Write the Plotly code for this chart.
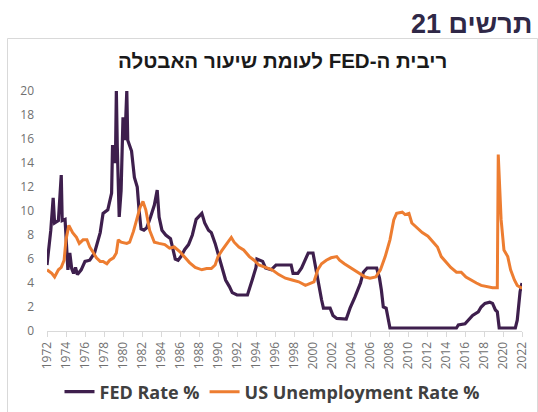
import plotly.graph_objects as go

# FED rate, x = position on the year axis
fed_x = [1972.0, 1972.4, 1972.65, 1972.8, 1973.2, 1973.5, 1973.6, 1973.9, 1974.1, 1974.2,
         1974.4, 1974.6, 1974.8, 1975.0, 1975.2, 1975.6, 1976.0, 1976.5, 1977.0, 1977.6,
         1977.9, 1978.4, 1978.8, 1978.9, 1979.2, 1979.3, 1979.4, 1979.6, 1979.8, 1980.0,
         1980.2, 1980.4, 1980.5, 1980.9, 1981.2, 1981.5, 1981.7, 1981.9, 1982.2, 1982.5,
         1982.9, 1983.3, 1983.6, 1983.8, 1984.1, 1984.5, 1985.0, 1985.3, 1985.5, 1985.8,
         1986.1, 1986.5, 1986.9, 1987.3, 1987.7, 1988.3, 1988.6, 1989.0, 1989.3, 1989.7,
         1990.0, 1990.5, 1990.8, 1991.2, 1991.5, 1992.0, 1993.1, 1993.6, 1994.0, 1994.1,
         1994.7, 1995.0, 1995.6, 1996.1, 1997.7, 1997.9, 1998.4, 1998.8, 1999.1, 1999.5,
         2000.0, 2000.3, 2000.6, 2000.9, 2001.1, 2001.8, 2002.1, 2002.5, 2003.5, 2003.9,
         2004.4, 2005.0, 2005.3, 2005.7, 2006.7, 2007.0, 2007.2, 2007.4, 2007.7, 2008.1,
         2015.1, 2015.3, 2016.0, 2016.3, 2016.8, 2017.4, 2017.7, 2018.1, 2018.6, 2018.9,
         2019.2, 2019.4, 2019.6, 2021.3, 2021.5, 2021.8, 2022.0]
fed_y = [5.5, 8.4, 11.1, 9.0, 9.2, 13.0, 9.2, 9.3, 6.5, 5.1,
         6.5, 5.2, 4.8, 5.3, 4.7, 5.1, 5.8, 5.9, 6.5, 8.2,
         9.8, 10.1, 11.5, 15.5, 14.0, 20.0, 15.3, 9.5, 11.7, 17.8,
         15.9, 20.0, 15.9, 15.0, 12.8, 12.0, 10.0, 8.5, 8.4, 8.6,
         9.5, 10.5, 11.75, 9.5, 8.4, 8.0, 7.7, 6.8, 6.0, 5.9,
         6.2, 6.8, 7.2, 8.0, 9.3, 9.8, 9.0, 8.4, 8.2, 7.3,
         6.5, 5.1, 4.25, 3.7, 3.2, 3.0, 3.0, 4.25, 5.3, 6.0,
         5.8, 5.25, 5.1, 5.5, 5.5, 4.8, 4.8, 5.25, 5.8, 6.5,
         6.5, 5.1, 3.7, 2.6, 1.9, 1.9, 1.3, 1.05, 1.0, 1.9,
         2.8, 4.0, 4.9, 5.25, 5.25, 4.4, 3.4, 2.0, 1.9, 0.25,
         0.25, 0.5, 0.6, 0.9, 1.3, 1.6, 2.0, 2.3, 2.4, 2.3,
         1.75, 1.6, 0.25, 0.25, 0.9, 3.3, 4.0]

# US unemployment rate
unemp_x = [1972.0, 1972.5, 1972.8, 1973.2, 1973.5, 1973.8, 1974.0, 1974.3, 1974.7, 1975.1,
           1975.4, 1975.8, 1976.2, 1976.5, 1976.9, 1977.2, 1977.6, 1977.9, 1978.3, 1978.6,
           1979.0, 1979.3, 1979.5, 1979.8, 1980.4, 1980.7, 1981.1, 1981.4, 1981.8, 1982.1,
           1982.4, 1982.8, 1983.3, 1983.8, 1984.4, 1984.9, 1985.4, 1986.0, 1986.5, 1987.0,
           1987.6, 1988.3, 1988.8, 1989.3, 1989.7, 1990.0, 1990.4, 1990.9, 1991.4, 1991.7,
           1992.2, 1992.7, 1993.3, 1993.8, 1994.3, 1995.0, 1995.7, 1996.4, 1997.1, 1997.8,
           1998.5, 1999.2, 1999.8, 2000.1, 2000.5, 2000.9, 2001.4, 2001.9, 2002.5, 2002.8,
           2003.3, 2003.9, 2004.4, 2005.0, 2005.5, 2006.0, 2006.6, 2007.1, 2007.6, 2008.1,
           2008.5, 2008.8, 2009.4, 2009.7, 2010.1, 2010.4, 2011.0, 2011.5, 2012.1, 2012.6,
           2013.1, 2013.5, 2014.0, 2014.5, 2015.1, 2015.6, 2016.1, 2016.6, 2017.2, 2017.7,
           2018.2, 2018.9, 2019.4, 2019.5, 2019.8, 2020.1, 2020.5, 2020.8, 2021.2, 2021.5,
           2021.9, 2022.0]
unemp_y = [5.1, 4.8, 4.5, 5.1, 5.3, 5.9, 7.6, 8.8, 8.2, 7.8,
           7.3, 7.6, 7.6, 7.0, 6.5, 6.1, 5.8, 5.8, 5.6, 5.9,
           6.1, 6.5, 7.6, 7.4, 7.3, 7.4, 8.3, 9.2, 10.3, 10.8,
           10.1, 8.4, 7.4, 7.3, 7.2, 6.9, 7.0, 6.6, 6.1, 5.7,
           5.3, 5.1, 5.2, 5.2, 5.5, 6.2, 6.7, 7.2, 7.8, 7.4,
           7.0, 6.75, 6.2, 5.9, 5.5, 5.3, 5.1, 4.7, 4.4, 4.25,
           4.1, 3.8, 4.0, 4.1, 5.1, 5.6, 5.9, 6.1, 6.2, 5.9,
           5.6, 5.3, 5.1, 4.8, 4.5, 4.4, 4.5, 5.1, 6.2, 7.6,
           9.25, 9.8, 9.9, 9.7, 9.8, 9.0, 8.6, 8.2, 7.9, 7.4,
           7.0, 6.2, 5.7, 5.3, 4.9, 4.9, 4.5, 4.25, 4.0, 3.8,
           3.7, 3.6, 3.6, 14.7, 9.3, 6.75, 6.2, 5.1, 4.25, 3.8,
           3.6, 3.6]

year_ticks = list(range(1972, 2023, 2))
y_ticks = list(range(0, 21, 2))

fed_name = "FED Rate %"
unemp_name = "US Unemployment Rate %"
header_text = "תרשים 21"
title_text = "ריבית ה-FED לעומת שיעור האבטלה"

# right-to-left embedding so Hebrew lines are laid out right to left
RLE, PDF = "\u202B", "\u202C"
title_display = RLE + title_text + PDF
header_display = RLE + header_text + PDF

W, H = 538, 412
L, R, T, B = 47, 16, 91, 81
pw, ph = W - L - R, H - T - B


def px_x(p):
    return (p - L) / pw


def px_y(p):
    return (H - B - p) / ph


fig = go.Figure()
fig.add_trace(go.Scatter(x=fed_x, y=fed_y, name=fed_name, mode="lines",
                         line=dict(color="#3e1f4d", width=3.2)))
fig.add_trace(go.Scatter(x=unemp_x, y=unemp_y, name=unemp_name, mode="lines",
                         line=dict(color="#ED7D31", width=3)))

fig.update_layout(
    width=W, height=H,
    margin=dict(l=L, r=R, t=T, b=B, autoexpand=False),
    paper_bgcolor="white", plot_bgcolor="white",
    showlegend=True,
    legend=dict(orientation="h", x=px_x(272), xanchor="center", y=px_y(392), yanchor="middle",
                font=dict(family="Open Sans", size=18, color="#404040", weight="bold"),
                itemwidth=30, bgcolor="rgba(0,0,0,0)"),
    font=dict(family="Open Sans"),
)
fig.update_xaxes(range=[1972, 2022], tickvals=year_ticks, ticktext=[str(v) for v in year_ticks],
                 tickangle=-90, showgrid=False, zeroline=False,
                 showline=True, linecolor="#d9d9d9", linewidth=1,
                 ticks="outside", ticklen=5, tickcolor="#d9d9d9",
                 tickfont=dict(family="Open Sans", size=12, color="#707070"))
fig.update_yaxes(range=[0, 20], tickvals=y_ticks, showgrid=False, zeroline=False,
                 showline=False, ticks="", ticklabelstandoff=12,
                 tickfont=dict(family="Open Sans", size=12, color="#707070"))

fig.add_shape(type="rect", xref="paper", yref="paper",
              x0=px_x(7.5), x1=px_x(537.5), y0=px_y(430), y1=px_y(38.5),
              line=dict(color="#d9d9d9", width=1), fillcolor="rgba(0,0,0,0)", layer="below")

fig.add_annotation(text="<b>" + header_display + "</b>", xref="paper", yref="paper",
                   x=px_x(534), y=px_y(24), xanchor="right", yanchor="middle", showarrow=False,
                   font=dict(family="Liberation Sans", size=27, color="#2f2847"))
fig.add_annotation(text="<b>" + title_display + "</b>", xref="paper", yref="paper",
                   x=px_x(282), y=px_y(60), xanchor="center", yanchor="middle", showarrow=False,
                   font=dict(family="Liberation Sans", size=20.5, color="#1a1a1a"))

fig.write_html("out.html", config={"displayModeBar": False},
               post_script="document.body.style.margin='0';document.body.style.overflow='hidden';")
